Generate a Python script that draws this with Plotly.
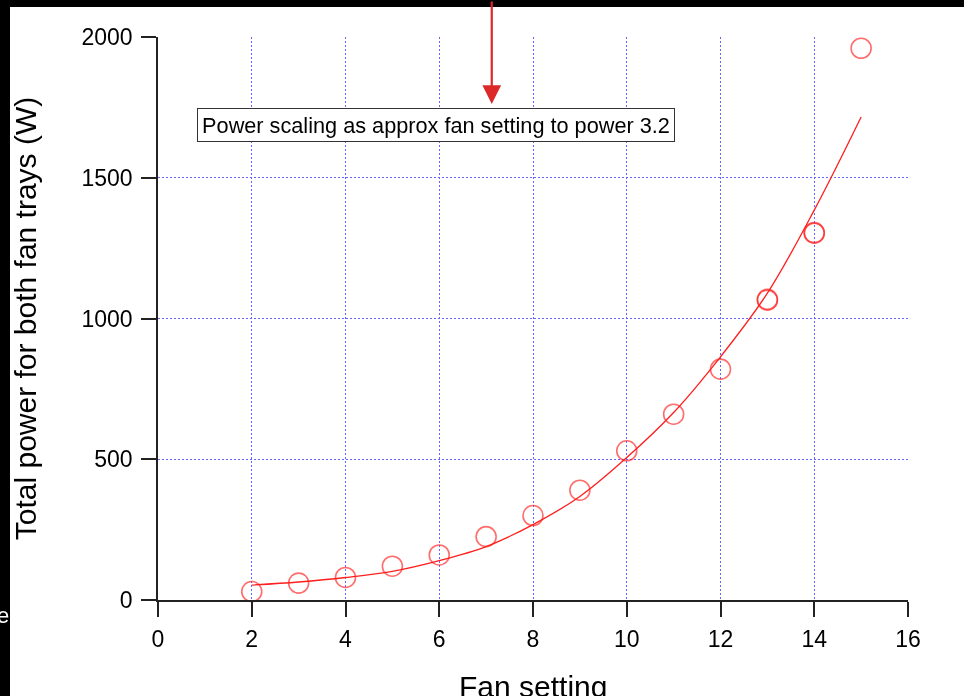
import plotly.graph_objects as go

# Measured data (fan setting vs total power, W)
fan_setting = [2, 3, 4, 5, 6, 7, 8, 9, 10, 11, 12, 13, 13, 14, 14, 15]
power_w = [30, 60, 80, 120, 160, 225, 300, 390, 530, 660, 820, 1065, 1068, 1305, 1303, 1960]

# Fitted curve (power ~ fan setting^3.2)
fit_x = [2, 3, 4, 5, 6, 7, 8, 9, 10, 11, 12, 13, 14, 15]
fit_y = [53, 64, 80, 102, 140, 190, 268, 368, 506, 666, 864, 1090, 1385, 1716]

x_ticks = [0, 2, 4, 6, 8, 10, 12, 14, 16]
y_ticks = [0, 500, 1000, 1500, 2000]

annot_text = "Power scaling as approx fan setting to power 3.2"
x_title = "Fan setting"
y_title = "Total power for both fan trays (W)"

W, H = 964, 696
L, R, T, B = 158, 56, 37, 96
PW, PH = W - L - R, H - T - B


def px_x(p):
    return (p - L) / PW


def px_y(p):
    return (H - B - p) / PH


FONT = "Liberation Sans, Arial, sans-serif"
GRID = "rgb(100,100,255)"

fig = go.Figure()

fig.add_trace(go.Scatter(
    x=fit_x, y=fit_y, mode="lines",
    line=dict(color="rgb(255,30,30)", width=1.3, shape="spline"),
    showlegend=False, cliponaxis=False,
))

fig.add_trace(go.Scatter(
    x=fan_setting, y=power_w, mode="markers",
    marker=dict(symbol="circle-open", size=20, color="rgba(255,30,30,0.65)",
                line=dict(width=1.6, color="rgba(255,30,30,0.65)")),
    showlegend=False, cliponaxis=False,
))

axis_common = dict(
    showline=True, linecolor="#222", linewidth=1.5,
    ticks="outside", ticklen=15, tickwidth=1.5, tickcolor="#222",
    showgrid=True, gridcolor=GRID, gridwidth=1, griddash="2px,2px",
    zeroline=False, tickfont=dict(family=FONT, size=23, color="black"),
)

fig.update_xaxes(range=[0, 16], tickvals=x_ticks, **axis_common, ticklabelstandoff=3)
fig.update_yaxes(range=[0, 2000], tickvals=y_ticks, **axis_common,
                 ticklabelstandoff=4,
                 title=dict(text=y_title,
                            font=dict(family=FONT, size=30, color="black"), standoff=36))

annotations = [
    dict(x=5.94, y=1687, xref="x", yref="y", text=annot_text, showarrow=False,
         font=dict(family=FONT, size=21.7, color="black"),
         width=474, height=30, align="center", valign="middle",
         bgcolor="white", bordercolor="#333", borderwidth=1, borderpad=1),
    dict(x=7.12, y=1762, xref="x", yref="y", text="", showarrow=True,
         ax=0, ay=-110, axref="pixel", ayref="pixel",
         arrowhead=2, arrowsize=1.7, arrowwidth=2.2, arrowcolor="rgb(220,40,40)",
         standoff=0),
    dict(x=0.5, y=px_y(668), xref="paper", yref="paper", text=x_title,
         showarrow=False, xanchor="center", yanchor="top",
         font=dict(family=FONT, size=30, color="black")),
    dict(x=px_x(11), y=px_y(615), xref="paper", yref="paper", text="e",
         showarrow=False, xanchor="right", yanchor="middle",
         font=dict(family=FONT, size=22, color="white")),
]

fig.update_layout(
    width=W, height=H,
    margin=dict(l=L, r=R, t=T, b=B, autoexpand=False),
    paper_bgcolor="rgba(0,0,0,0)", plot_bgcolor="white",
    annotations=annotations,
    font=dict(family=FONT),
)

post = (
    "document.documentElement.style.background='white';"
    "document.body.style.margin='0';document.body.style.overflow='hidden';"
    "document.body.style.background='white';"
    "function band(l,t,w,h){var d=document.createElement('div');"
    "d.style.cssText='position:fixed;left:'+l+'px;top:'+t+'px;width:'+w+';height:'+h+';"
    "background:black;z-index:-1;';document.body.appendChild(d);}"
    "band(0,0,'100%','7px');band(0,0,'10px','100%');"
    "document.body.style.position='relative';document.body.style.zIndex='0';"
)

fig.write_html("out.html", config={"displayModeBar": False}, post_script=post)
